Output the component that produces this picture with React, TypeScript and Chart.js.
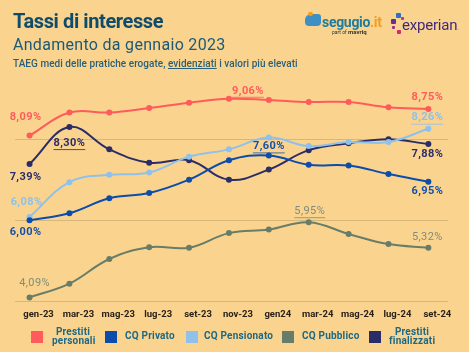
import React, { useEffect, useRef } from "react";
import { Chart, registerables } from "chart.js";

Chart.register(...registerables);

const labels = ["gen-23", "mar-23", "mag-23", "lug-23", "set-23", "nov-23", "gen24", "mar-24", "mag-24", "lug-24", "set-24"];
const prestitiPersonali = [8.09, 8.66, 8.66, 8.77, 8.9, 9.0, 8.97, 8.92, 8.92, 8.79, 8.75];
const cqPrivato = [6.0, 6.17, 6.54, 6.67, 7.0, 7.48, 7.6, 7.37, 7.35, 7.14, 6.95];
const cqPensionato = [6.08, 6.94, 7.12, 7.18, 7.57, 7.75, 8.04, 7.83, 7.93, 7.93, 8.26];
const cqPubblico = [4.09, 4.43, 5.04, 5.33, 5.32, 5.68, 5.77, 5.95, 5.66, 5.41, 5.32];
const prestitiFinalizzati = [7.39, 8.3, 7.75, 7.42, 7.48, 7.0, 7.25, 7.73, 7.9, 8.0, 7.88];
const gridValues = [4, 6, 8];

const seriesNames = [["Prestiti", "personali"], ["CQ Privato"], ["CQ Pensionato"], ["CQ Pubblico"], ["Prestiti", "finalizzati"]];
const seriesData = [prestitiPersonali, cqPrivato, cqPensionato, cqPubblico, prestitiFinalizzati];
const seriesColors = ["#ff5b5b", "#0c4dab", "#8fc1ea", "#687d69", "#2b2d68"];
const labelColors = ["#ff5b5b", "#1450a8", "#8fc1ea", "#7f8c7b", "#2b2d68"];

// highlighted value labels: series, index, text
const highlights = [
  { s: 0, i: 0, text: "8,09%", dx: -4, dy: -18, u: false },
  { s: 0, i: 5, text: "9,06%", dx: 19, dy: -8, u: true },
  { s: 0, i: 10, text: "8,75%", dx: -1, dy: -12, u: false },
  { s: 1, i: 0, text: "6,00%", dx: -4, dy: 12, u: false },
  { s: 1, i: 6, text: "7,60%", dx: 0, dy: -9, u: true },
  { s: 1, i: 10, text: "6,95%", dx: -1, dy: 10, u: false },
  { s: 2, i: 0, text: "6,08%", dx: -3, dy: -15, u: false },
  { s: 2, i: 10, text: "8,26%", dx: -1, dy: -11, u: true },
  { s: 3, i: 0, text: "4,09%", dx: 5, dy: -14, u: false },
  { s: 3, i: 7, text: "5,95%", dx: 1, dy: -11, u: true },
  { s: 3, i: 10, text: "5,32%", dx: -1, dy: -10, u: false },
  { s: 4, i: 0, text: "7,39%", dx: -4, dy: 13, u: false },
  { s: 4, i: 1, text: "8,30%", dx: 0, dy: 16, u: true },
  { s: 4, i: 10, text: "7,88%", dx: -1, dy: 10, u: false },
];

const legendPos = [
  { box: 31, text: 52, w: 42 },
  { box: 105, text: 125, w: 60 },
  { box: 186, text: 204, w: 70 },
  { box: 282, text: 302, w: 60 },
  { box: 369, text: 389, w: 46 },
];

const valueLabelPlugin = {
  id: "valueLabels",
  afterDatasetsDraw(chart: any) {
    const ctx = chart.ctx;
    ctx.save();
    highlights.forEach((h) => {
      const meta = chart.getDatasetMeta(h.s);
      const pt = meta.data[h.i];
      if (!pt) return;
      const cx = pt.x + h.dx;
      const cy = pt.y + h.dy;
      ctx.font = (h.s === 3 ? "normal" : "bold") + " 11px Roboto";
      try { (ctx as any).letterSpacing = "0.4px"; } catch (e) {}
      ctx.fillStyle = labelColors[h.s];
      ctx.textAlign = "center";
      ctx.textBaseline = "middle";
      ctx.fillText(h.text, cx, cy);
      if (h.u) {
        const w = ctx.measureText(h.text).width;
        ctx.strokeStyle = labelColors[h.s];
        ctx.globalAlpha = 0.8;
        ctx.lineWidth = 1;
        ctx.beginPath();
        ctx.moveTo(cx - w / 2, cy + 6.5);
        ctx.lineTo(cx + w / 2, cy + 6.5);
        ctx.stroke();
        ctx.globalAlpha = 1;
      }
    });
    ctx.restore();
  },
};

export default function App() {
  const ref = useRef<HTMLCanvasElement | null>(null);
  useEffect(() => {
    if (!ref.current) return;
    const chart = new Chart(ref.current, {
      type: "line",
      data: {
        datasets: seriesData.map((arr, k) => ({
          label: seriesNames[k].join(" "),
          data: arr.map((v, i) => ({ x: i, y: v })),
          borderColor: seriesColors[k],
          backgroundColor: seriesColors[k],
          borderWidth: 2,
          pointRadius: 3,
          pointBorderWidth: 0,
          tension: 0.4,
          fill: false,
        })),
      },
      options: {
        animation: false,
        responsive: false,
        layout: { padding: { left: 14.5, right: 20.7, top: 58.3, bottom: 23.5 } },
        plugins: { legend: { display: false }, tooltip: { enabled: false }, title: { display: false } },
        scales: {
          x: {
            type: "linear",
            min: -0.377,
            max: 10.5,
            afterBuildTicks: (scale: any) => {
              scale.ticks = labels.map((_, i) => ({ value: i }));
            },
            grid: { display: false, drawTicks: false },
            border: { display: false },
            ticks: {
              callback: (v: any) => labels[v] ?? "",
              padding: 8,
              labelOffset: 9,
              maxRotation: 0,
              autoSkip: false,
              color: "#2a2118",
              font: { family: "Roboto", size: 9.5, weight: "bold" },
            },
          },
          y: {
            min: 4,
            max: 10,
            afterBuildTicks: (scale: any) => {
              scale.ticks = gridValues.map((v) => ({ value: v }));
            },
            grid: { color: "#d8b77c", lineWidth: 1, drawTicks: false },
            border: { display: false },
            ticks: { display: false },
          },
        },
      },
      plugins: [valueLabelPlugin],
    });
    return () => chart.destroy();
  }, []);

  const teal = "#1d6884";
  return (
    <div style={{ position: "fixed", left: 0, top: 0, width: 469, height: 352, background: "#fad48f", overflow: "hidden", fontFamily: "Roboto" }}>
      <canvas ref={ref} width={469} height={352} style={{ position: "absolute", left: 0, top: 0, display: "block" }} />
      <div style={{ position: "absolute", left: 13, top: 11.2, fontSize: 20, lineHeight: "20px", fontWeight: "bold", color: "#0f4c6b", letterSpacing: -0.4, whiteSpace: "nowrap" }}>Tassi di interesse</div>
      <div style={{ position: "absolute", left: 13, top: 36.5, fontSize: 16, lineHeight: "16px", color: "#1b5977", letterSpacing: 0.3, whiteSpace: "nowrap" }}>Andamento da gennaio 2023</div>
      <div style={{ position: "absolute", left: 13, top: 58.6, fontSize: 10, lineHeight: "10px", fontWeight: 500, color: "#2a5f78", letterSpacing: 0.04, whiteSpace: "nowrap" }}>
        TAEG medi delle pratiche erogate, <span style={{ textDecoration: "underline" }}>evidenziati</span> i valori più elevati
      </div>
      {/* segugio logo */}
      <div style={{ position: "absolute", left: 305, top: 14, width: 16, height: 12, background: "#3e8fc4", borderRadius: "6px 3px 4px 4px" }} />
      <div style={{ position: "absolute", left: 308, top: 12, width: 5, height: 4, background: "#f29c1f", borderRadius: 2 }} />
      <div style={{ position: "absolute", left: 322, top: 15, fontSize: 14, lineHeight: "14px", fontWeight: "bold", color: "#1e7ca0", letterSpacing: -0.3, whiteSpace: "nowrap" }}>
        segugio<span style={{ color: "#f29c1f" }}>.it</span>
      </div>
      <div style={{ position: "absolute", left: 332, top: 29, fontSize: 5, lineHeight: "6px", color: "#333", whiteSpace: "nowrap" }}>
        part of <b style={{ fontSize: 6 }}>mavriq</b>
      </div>
      {/* experian logo */}
      <div style={{ position: "absolute", left: 396, top: 13, width: 5, height: 5, background: "#2f6fc6", borderRadius: 1 }} />
      <div style={{ position: "absolute", left: 391, top: 19, width: 5, height: 5, background: "#6b2c91", borderRadius: 1 }} />
      <div style={{ position: "absolute", left: 392, top: 26, width: 3, height: 3, background: "#9d2c8e", borderRadius: 1 }} />
      <div style={{ position: "absolute", left: 397, top: 30, width: 4, height: 4, background: "#d1287a", borderRadius: 1 }} />
      <div style={{ position: "absolute", left: 401, top: 17, width: 3, height: 3, background: "#b0388f", borderRadius: 1 }} />
      <div style={{ position: "absolute", left: 402, top: 17, fontSize: 15, lineHeight: "16px", color: "#3f2a7e", whiteSpace: "nowrap", letterSpacing: -0.2 }}>
        experian<span style={{ fontSize: 6 }}>.</span>
      </div>
      {/* legend */}
      {seriesNames.map((name, k) => (
        <React.Fragment key={k}>
          <div style={{ position: "absolute", left: legendPos[k].box, top: 330.5, width: 12, height: 12, background: seriesColors[k] }} />
          <div
            style={{
              position: "absolute",
              left: legendPos[k].text,
              top: name.length > 1 ? 326.5 : 331,
              width: name.length > 1 ? legendPos[k].w : undefined,
              textAlign: name.length > 1 ? "center" : "left",
              fontSize: 10,
              lineHeight: "9.3px",
              fontWeight: "bold",
              color: teal,
              letterSpacing: 0.2,
              whiteSpace: "nowrap",
            }}
          >
            {name.map((l, j) => (
              <div key={j}>{l}</div>
            ))}
          </div>
        </React.Fragment>
      ))}
    </div>
  );
}
